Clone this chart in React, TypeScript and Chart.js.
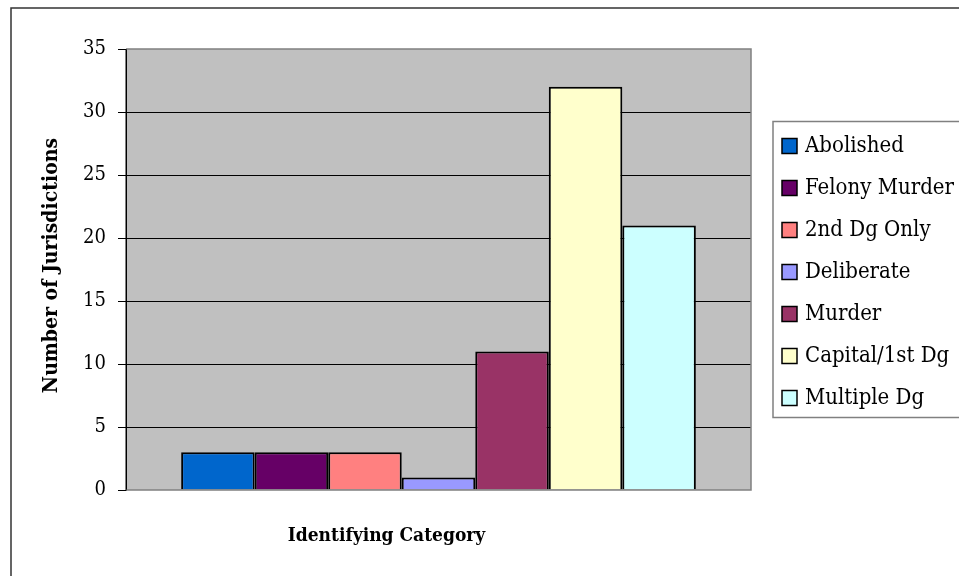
import React, { useEffect, useRef } from 'react';
import { Chart, registerables } from 'chart.js';

Chart.register(...registerables);

const categories = [''];
const seriesNames = ['Abolished', 'Felony Murder', '2nd Dg Only', 'Deliberate', 'Murder', 'Capital/1st Dg', 'Multiple Dg'];
const seriesValues = [3, 3, 3, 1, 11, 32, 21];
const seriesColors = ['#0066CC', '#660066', '#FF8080', '#9999FF', '#993366', '#FFFFCC', '#CCFFFF'];
const yMin = 0;
const yMax = 35;
const yStep = 5;
const yTitle = 'Number of Jurisdictions';
const xTitle = 'Identifying Category';

const SERIF = '"DejaVu Serif Condensed", "Liberation Serif", serif';

const framePlugin = {
  id: 'frame',
  beforeDraw(chart: any) {
    const { ctx, chartArea: a } = chart;
    ctx.save();
    ctx.fillStyle = '#ffffff';
    ctx.fillRect(0, 0, chart.width, chart.height);
    ctx.strokeStyle = '#333333';
    ctx.lineWidth = 1.5;
    ctx.beginPath();
    ctx.moveTo(11, chart.height + 5);
    ctx.lineTo(11, 8);
    ctx.lineTo(chart.width + 5, 8);
    ctx.stroke();
    ctx.fillStyle = '#C0C0C0';
    ctx.fillRect(a.left, a.top, a.right - a.left, a.bottom - a.top);
    ctx.restore();
  },
  afterDatasetsDraw(chart: any) {
    const { ctx, chartArea: a } = chart;
    ctx.save();
    ctx.strokeStyle = '#808080';
    ctx.lineWidth = 1.5;
    ctx.beginPath();
    ctx.moveTo(a.left, a.top);
    ctx.lineTo(a.right, a.top);
    ctx.lineTo(a.right, a.bottom);
    ctx.lineTo(a.left, a.bottom);
    ctx.stroke();
    ctx.strokeStyle = '#000000';
    ctx.lineWidth = 1;
    ctx.beginPath();
    ctx.moveTo(a.left, a.top);
    ctx.lineTo(a.left, a.bottom);
    ctx.stroke();

    ctx.fillStyle = '#000';
    ctx.font = 'bold 19px ' + SERIF;
    ctx.textAlign = 'center';
    ctx.textBaseline = 'middle';
    ctx.fillText(xTitle, (a.left + a.right) / 2 - 52, a.bottom + 46);

    // y axis title
    ctx.save();
    ctx.translate(52, (a.top + a.bottom) / 2 - 4);
    ctx.rotate(-Math.PI / 2);
    ctx.font = 'bold 21px ' + SERIF;
    ctx.fillText(yTitle, 0, 0);
    ctx.restore();

    const datasets = chart.data.datasets;
    const rowH = 42;
    const boxLeft = a.right + 22;
    const boxTop = (a.top + a.bottom) / 2 - 148;
    const boxH = rowH * datasets.length + 2;
    ctx.fillStyle = '#ffffff';
    ctx.fillRect(boxLeft, boxTop, chart.width - boxLeft + 10, boxH);
    ctx.strokeStyle = '#808080';
    ctx.lineWidth = 1.5;
    ctx.strokeRect(boxLeft, boxTop, chart.width - boxLeft + 10, boxH);
    ctx.font = '22px ' + SERIF;
    ctx.textAlign = 'left';
    ctx.textBaseline = 'middle';
    datasets.forEach((ds: any, i: number) => {
      const cy = boxTop + 24 + i * rowH;
      ctx.fillStyle = ds.backgroundColor;
      ctx.fillRect(boxLeft + 9, cy - 7, 15, 15);
      ctx.strokeStyle = '#000';
      ctx.lineWidth = 1.5;
      ctx.strokeRect(boxLeft + 9, cy - 7, 15, 15);
      ctx.fillStyle = '#000';
      ctx.fillText(ds.label, boxLeft + 32, cy + 1);
    });
    ctx.restore();
  },
};

export default function App() {
  const ref = useRef<HTMLCanvasElement | null>(null);

  useEffect(() => {
    if (!ref.current) return;
    const chart = new Chart(ref.current, {
      type: 'bar',
      data: {
        labels: categories,
        datasets: seriesNames.map((name, i) => ({
          label: name,
          data: [seriesValues[i]],
          backgroundColor: seriesColors[i],
          borderColor: '#000000',
          borderWidth: 2,
          categoryPercentage: 7 / 8.5,
          barPercentage: 1,
        })),
      },
      options: {
        animation: false,
        responsive: true,
        maintainAspectRatio: false,
        layout: { padding: { left: 0, top: 49, right: 208, bottom: 86 } },
        plugins: {
          legend: { display: false },
          tooltip: { enabled: false },
        },
        scales: {
          x: {
            display: true,
            ticks: { display: false },
            grid: { display: false, drawTicks: false },
            border: { display: false },
            afterFit: (s: any) => { s.height = 0; },
          },
          y: {
            min: yMin,
            max: yMax,
            ticks: {
              stepSize: yStep,
              padding: 12,
              color: '#000',
              font: { family: SERIF, size: 20 },
            },
            grid: {
              color: (c: any) => (c.tick && (c.tick.value === yMin || c.tick.value === yMax) ? 'rgba(0,0,0,0)' : '#000000'),
              tickColor: '#000000',
              tickLength: 8,
              lineWidth: 1,
            },
            border: { display: true, color: '#000000', width: 1 },
            title: { display: false },
            afterFit: (s: any) => { s.width = 126; },
          },
        },
      },
      plugins: [framePlugin],
    });
    return () => chart.destroy();
  }, []);

  return (
    <div style={{ position: 'fixed', left: 0, top: 0, width: 959, height: 576, background: '#fff' }}>
      <canvas ref={ref} />
    </div>
  );
}
